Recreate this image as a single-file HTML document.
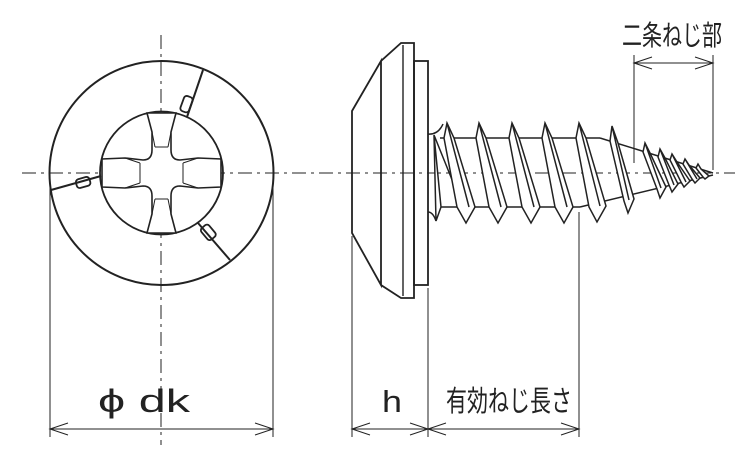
<!DOCTYPE html>
<html><head><meta charset="utf-8"><style>
html,body{margin:0;padding:0;background:#fff;}
svg{display:block;}
text{font-family:"Liberation Sans","Noto Sans CJK JP",sans-serif;fill:#222;}
</style></head><body>
<svg width="750" height="450" viewBox="0 0 750 450" xmlns="http://www.w3.org/2000/svg">
<g stroke="#222" fill="none" stroke-width="1.6">
<line x1="161" y1="35" x2="161" y2="445" stroke-width="1" stroke-dasharray="14,5,3,5"/>
<line x1="22" y1="173" x2="735" y2="173" stroke-width="1" stroke-dasharray="14,5,3,5"/>
<circle cx="161.5" cy="173" r="112" stroke-width="2"/>
<circle cx="161.5" cy="173" r="61.5" stroke-width="1.8"/>
<path d="M147,113 L176,113 L171,132 L171,150 Q171,160 180,160 L198,158 L221,159 L221,187 L198,188 L180,186 Q171,186 171,196 L171,214 L176,233 L147,233 L152,214 L152,196 Q152,186 143,186 L125,188 L102,187 L102,159 L125,158 L143,160 Q152,160 152,150 L152,132 Z" fill="#fff" stroke-width="1.6"/>
<path d="M152,132 L155,147 M171,132 L168,147 M152,214 L155,199 M171,214 L168,199 M125,158 L140,163 M125,188 L140,183 M198,158 L183,163 M198,188 L183,183 M155,147 L168,147 M155,199 L168,199 M140,163 L140,183 M183,163 L183,183" stroke-width="1"/>
<line x1="203" y1="70" x2="187" y2="117" stroke-width="2"/>
<rect x="182" y="96" width="9" height="16" rx="3" transform="rotate(20 186 104)" stroke-width="1.8"/>
<line x1="51" y1="190" x2="101" y2="176" stroke-width="2"/>
<rect x="76" y="178" width="14" height="9" rx="3" transform="rotate(-16 83 182)" stroke-width="1.8"/>
<line x1="230" y1="260" x2="198" y2="223" stroke-width="2"/>
<rect x="203" y="225" width="10" height="15" rx="3" transform="rotate(-40 208 232)" stroke-width="1.8"/>
<path d="M352,111 L381,61 L381,285 L352,233 Z" stroke-width="1.8"/>
<path d="M381,61 L401,43 L414,43 L414,298 L401,298 L381,285" stroke-width="1.8"/>
<line x1="403" y1="45" x2="403" y2="296" stroke-width="1.4"/>
<rect x="414" y="61" width="14" height="224" stroke-width="1.8"/>
<path d="M428,134 Q438,135 443,124 M428,212 Q433,212 436,221" stroke-width="1.5"/>
<line x1="440" y1="138" x2="600" y2="138" stroke-width="1.6"/>
<line x1="440" y1="207" x2="580" y2="207" stroke-width="1.6"/>
<line x1="600" y1="138" x2="713" y2="173" stroke-width="1.5"/>
<line x1="580" y1="207" x2="713" y2="175" stroke-width="1.5"/>
<g stroke-width="1.5" fill="#fff">
<path d="M434,135 L436,221 L441,207 Z M434,135 L463,207"/>
<path d="M444,138 L447,123 L454,138 L475,207 L466,223 L457,207 Z M447,123 L469,207"/>
<path d="M476,138 L479,123 L486,138 L507,207 L498,223 L489,207 Z M479,123 L501,207"/>
<path d="M509,138 L512,123 L519,138 L540,207 L531,223 L522,207 Z M512,123 L534,207"/>
<path d="M542,138 L545,123 L552,138 L573,207 L564,223 L555,207 Z M545,123 L567,207"/>
<path d="M576,138 L579,123 L586,138 L606,206 L597,222 L589,207 Z M579,123 L600,206"/>
<path d="M610,141 L612,126 L618,143 L634,199 L628,213 L624,201 Z M612,126 L629,200"/>
<path d="M643,152 L645,143 L650,153 L666,187 L660,198 L657,189 Z M645,143 L661,188"/>
<path d="M658,157 L660,149 L665,158 L678,184 L672,192 L669,185 Z M660,149 L674,185"/>
<path d="M670,160 L672,154 L677,162 L690,181 L684,187 L681,182 Z M672,154 L686,182"/>
<path d="M683,164 L685,159 L689,165 L700,178 L695,183 L692,179 Z M685,159 L697,179"/>
<path d="M696,168 L698,164 L701,169 L709,176 L705,179 L703,177 Z"/>
</g>
<g stroke-width="1">
<line x1="50" y1="173" x2="50" y2="437"/>
<line x1="273" y1="173" x2="273" y2="437"/>
<line x1="352" y1="236" x2="352" y2="437"/>
<line x1="428" y1="288" x2="428" y2="437"/>
<line x1="579" y1="212" x2="579" y2="437"/>
<line x1="634" y1="55" x2="634" y2="163"/>
<line x1="713" y1="55" x2="713" y2="170"/>
<line x1="50" y1="429" x2="273" y2="429"/>
<line x1="352" y1="429" x2="579" y2="429"/>
<line x1="634" y1="63" x2="713" y2="63"/>
<path d="M68,423 L50,429 L68,435 M255,423 L273,429 L255,435"/>
<path d="M370,423 L352,429 L370,435 M410,423 L428,429 L410,435 M446,423 L428,429 L446,435 M561,423 L579,429 L561,435"/>
<path d="M652,57 L634,63 L652,69 M695,57 L713,63 L695,69"/>
</g>
</g>
<text x="98" y="412" font-size="32" textLength="92" lengthAdjust="spacingAndGlyphs">ϕ dk</text>
<text x="382" y="412" font-size="31" textLength="20" lengthAdjust="spacingAndGlyphs">h</text>
<text x="446" y="411" font-size="29" textLength="126" lengthAdjust="spacingAndGlyphs">有効ねじ長さ</text>
<text x="622" y="45" font-size="28" textLength="100" lengthAdjust="spacingAndGlyphs">二条ねじ部</text>
</svg>
</body></html>
